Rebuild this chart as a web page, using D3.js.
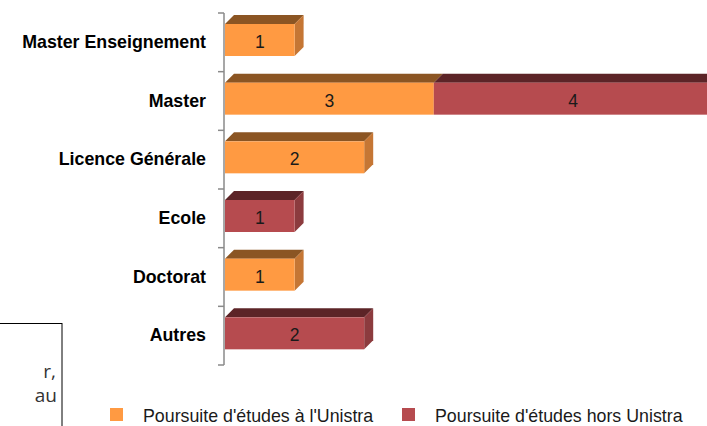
<!DOCTYPE html>
<html><head><meta charset="utf-8">
<script src="https://cdn.jsdelivr.net/npm/d3@7/dist/d3.min.js"></script>
<style>body{margin:0;background:#fff;}svg{display:block;font-family:"Liberation Sans",Arial,sans-serif;}</style>
</head><body>
<script>
const categories = ["Master Enseignement","Master","Licence Générale","Ecole","Doctorat","Autres"];
const seriesNames = ["Poursuite d'études à l'Unistra","Poursuite d'études hors Unistra"];
const unistra = [1,3,2,0,1,0];
const horsUnistra = [0,4,0,1,0,2];
const colors = [
  {front:"#FF9A42", top:"#8B5523", side:"#C57634"},
  {front:"#B64B4F", top:"#5C2427", side:"#8C3B3E"}
];
const W=707,H=426;
const svg=d3.select("body").append("svg").attr("width",W).attr("height",H);

const x=d3.scaleLinear().domain([0,7]).range([225,225+7*69.6]);
const y=d3.scaleBand().domain(categories).range([13,365]).padding(0);
const dx=9, dy=9, frontTop=11, frontH=32;

svg.append("defs").append("clipPath").attr("id","c").append("rect").attr("x",0).attr("y",0).attr("width",W).attr("height",H);

const g=svg.append("g").attr("clip-path","url(#c)");
const values=[unistra,horsUnistra];
categories.forEach((cat,i)=>{
  let acc=0;
  const segs=[];
  values.forEach((arr,s)=>{
    const v=arr[i];
    if(v>0){segs.push({s,x0:acc,x1:acc+v,v});}
    acc+=v;
  });
  const yt=y(cat)+frontTop;
  segs.forEach((sg,k)=>{
    const X0=x(sg.x0),X1=x(sg.x1),c=colors[sg.s];
    g.append("path").attr("d",`M${X0},${yt}L${X0+dx},${yt-dy}L${X1+dx},${yt-dy}L${X1},${yt}Z`).attr("fill",c.top);
    if(k===segs.length-1){
      g.append("path").attr("d",`M${X1},${yt}L${X1+dx},${yt-dy}L${X1+dx},${yt+frontH-dy}L${X1},${yt+frontH}Z`).attr("fill",c.side);
    }
    g.append("rect").attr("x",X0).attr("y",yt).attr("width",X1-X0).attr("height",frontH).attr("fill",c.front);
    g.append("text").attr("x",(X0+X1)/2).attr("y",yt+frontH/2+8).attr("text-anchor","middle")
      .attr("font-size",17.5).attr("fill","#1a1a1a").text(sg.v);
  });
});

// axis
const axis=svg.append("g");
axis.append("line").attr("x1",224).attr("x2",224).attr("y1",13).attr("y2",365).attr("stroke","#8a8a8a").attr("stroke-width",1.5);
const bounds=categories.map(c=>y(c)).concat([y.range()[1]]);
bounds.forEach(b=>axis.append("line").attr("x1",218).attr("x2",224).attr("y1",b).attr("y2",b).attr("stroke","#8a8a8a").attr("stroke-width",1.5));
categories.forEach(c=>{
  axis.append("text").attr("x",206).attr("y",y(c)+frontTop+frontH/2+8).attr("text-anchor","end")
    .attr("font-size",17.8).attr("font-weight","bold").attr("fill","#000").text(c);
});

// text box at left
svg.append("rect").attr("x",-10).attr("y",323.5).attr("width",72).attr("height",120).attr("fill","none").attr("stroke","#000").attr("stroke-width",1);
svg.append("text").attr("x",56).attr("y",378).attr("text-anchor","end").attr("font-size",19).attr("fill","#333").attr("font-family","'Open Sans',sans-serif").text("r,");
svg.append("text").attr("x",57).attr("y",402).attr("text-anchor","end").attr("font-size",19).attr("fill","#333").attr("font-family","'Open Sans',sans-serif").text("au");

// legend
const leg=[{x:110,tx:143},{x:402,tx:435}];
seriesNames.forEach((n,i)=>{
  svg.append("rect").attr("x",leg[i].x).attr("y",408).attr("width",13).attr("height",13).attr("fill",colors[i].front);
  svg.append("text").attr("x",leg[i].tx).attr("y",422).attr("font-size",17.8).attr("fill","#1a1a1a").text(n);
});
</script>
</body></html>
